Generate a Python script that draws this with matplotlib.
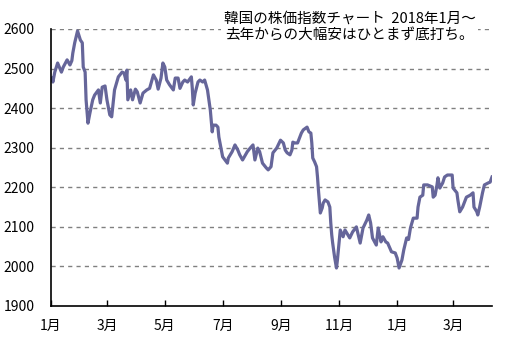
import matplotlib
matplotlib.use('Agg')
import matplotlib.pyplot as plt
import numpy as np
import pandas as pd

plt.rcParams['font.family'] = ['Noto Sans CJK JP', 'DejaVu Sans']

# KOSPI closing levels, Jan 2018 - Apr 2019
dates = [
    '2018-01-02', '2018-01-03', '2018-01-05', '2018-01-08', '2018-01-12', '2018-01-14',
    '2018-01-18', '2018-01-21', '2018-01-23', '2018-01-24', '2018-01-26', '2018-01-29',
    '2018-02-01', '2018-02-03', '2018-02-04', '2018-02-06', '2018-02-07', '2018-02-09',
    '2018-02-11', '2018-02-14', '2018-02-16', '2018-02-20', '2018-02-22', '2018-02-24',
    '2018-02-27', '2018-03-01', '2018-03-04', '2018-03-06', '2018-03-09', '2018-03-13',
    '2018-03-17', '2018-03-19', '2018-03-21', '2018-03-22', '2018-03-23', '2018-03-26',
    '2018-03-28', '2018-03-31', '2018-04-02', '2018-04-05', '2018-04-08', '2018-04-12',
    '2018-04-15', '2018-04-19', '2018-04-22', '2018-04-24', '2018-04-27', '2018-04-29',
    '2018-05-01', '2018-05-03', '2018-05-06', '2018-05-10', '2018-05-12', '2018-05-15',
    '2018-05-17', '2018-05-20', '2018-05-22', '2018-05-25', '2018-05-29', '2018-05-30',
    '2018-05-31', '2018-06-02', '2018-06-05', '2018-06-07', '2018-06-10', '2018-06-12',
    '2018-06-15', '2018-06-17', '2018-06-18', '2018-06-20', '2018-06-21', '2018-06-24',
    '2018-06-26', '2018-06-27', '2018-06-29', '2018-07-01', '2018-07-06', '2018-07-07',
    '2018-07-11', '2018-07-14', '2018-07-17', '2018-07-19', '2018-07-22', '2018-07-27',
    '2018-07-30', '2018-08-02', '2018-08-04', '2018-08-07', '2018-08-09', '2018-08-12',
    '2018-08-16', '2018-08-18', '2018-08-21', '2018-08-23', '2018-08-27', '2018-08-31',
    '2018-09-03', '2018-09-05', '2018-09-07', '2018-09-10', '2018-09-12', '2018-09-13',
    '2018-09-15', '2018-09-18', '2018-09-22', '2018-09-24', '2018-09-28', '2018-09-30',
    '2018-10-02', '2018-10-03', '2018-10-04', '2018-10-06', '2018-10-08', '2018-10-09',
    '2018-10-10', '2018-10-12', '2018-10-14', '2018-10-15', '2018-10-17', '2018-10-20',
    '2018-10-22', '2018-10-23', '2018-10-24', '2018-10-25', '2018-10-27', '2018-10-29',
    '2018-10-30', '2018-11-02', '2018-11-05', '2018-11-07', '2018-11-09', '2018-11-12',
    '2018-11-15', '2018-11-19', '2018-11-23', '2018-11-26', '2018-11-30', '2018-12-02',
    '2018-12-04', '2018-12-06', '2018-12-10', '2018-12-12', '2018-12-15', '2018-12-17',
    '2018-12-20', '2018-12-22', '2018-12-26', '2018-12-30', '2019-01-01', '2019-01-03',
    '2019-01-06', '2019-01-08', '2019-01-11', '2019-01-13', '2019-01-15', '2019-01-18',
    '2019-01-22', '2019-01-23', '2019-01-25', '2019-01-28', '2019-01-29', '2019-02-02',
    '2019-02-07', '2019-02-08', '2019-02-10', '2019-02-12', '2019-02-13', '2019-02-15',
    '2019-02-18', '2019-02-20', '2019-02-23', '2019-02-28', '2019-03-01', '2019-03-05',
    '2019-03-06', '2019-03-08', '2019-03-11', '2019-03-15', '2019-03-19', '2019-03-22',
    '2019-03-23', '2019-03-26', '2019-03-27', '2019-03-29', '2019-04-01', '2019-04-03',
    '2019-04-07', '2019-04-09', '2019-04-11',
]
values = [
    2476, 2466, 2491, 2514, 2491, 2504,
    2522, 2509, 2520, 2539, 2565, 2595,
    2572, 2565, 2504, 2491, 2421, 2362,
    2387, 2421, 2433, 2446, 2413, 2453,
    2456, 2421, 2383, 2378, 2446, 2479,
    2491, 2489, 2471, 2496, 2421, 2446,
    2421, 2448, 2441, 2413, 2438, 2446,
    2450, 2484, 2471, 2448, 2476, 2514,
    2504, 2471, 2459, 2446, 2476, 2476,
    2450, 2466, 2471, 2466, 2479, 2450,
    2408, 2438, 2466, 2471, 2466, 2471,
    2446, 2413, 2395, 2340, 2357, 2357,
    2352, 2327, 2302, 2277, 2261, 2274,
    2290, 2307, 2294, 2282, 2269, 2290,
    2299, 2307, 2269, 2299, 2290, 2261,
    2249, 2244, 2252, 2287, 2299, 2319,
    2312, 2294, 2287, 2282, 2294, 2314,
    2312, 2312, 2337, 2345, 2352, 2340,
    2337, 2312, 2274, 2264, 2252, 2226,
    2193, 2135, 2148, 2160, 2168, 2163,
    2150, 2110, 2080, 2059, 2024, 1996,
    2016, 2092, 2075, 2092, 2084, 2072,
    2087, 2100, 2059, 2097, 2117, 2130,
    2110, 2072, 2054, 2097, 2062, 2075,
    2062, 2059, 2037, 2034, 2021, 1996,
    2016, 2042, 2072, 2068, 2097, 2122,
    2122, 2150, 2175, 2180, 2206, 2206,
    2201, 2175, 2180, 2206, 2224, 2198,
    2211, 2226, 2231, 2231, 2198, 2186,
    2168, 2138, 2150, 2175, 2180, 2186,
    2150, 2138, 2130, 2150, 2186, 2206,
    2211, 2213, 2226,
]

tick_dates = ['2018-01-01', '2018-03-01', '2018-05-01', '2018-07-01',
              '2018-09-01', '2018-11-01', '2019-01-01', '2019-03-01']
tick_labels = ['1月', '3月', '5月', '7月', '9月', '11月', '1月', '3月']
y_ticks = [1900, 2000, 2100, 2200, 2300, 2400, 2500, 2600]

title = '韓国の株価指数チャート  2018年1月～\n去年からの大幅安はひとまず底打ち。'

df = pd.DataFrame({'date': pd.to_datetime(dates), 'kospi': values})

fig = plt.figure(figsize=(5.14, 3.48), dpi=100)
ax = fig.add_axes([0.0992, 0.1207, 0.8580, 0.7960])

ax.plot(df['date'], df['kospi'], color='#66669a', linewidth=2.3, solid_joinstyle='round')

ax.set_xlim(pd.Timestamp('2018-01-01'), df['date'].iloc[-1])
ax.set_ylim(1900, 2600)
ax.set_xticks(pd.to_datetime(tick_dates))
ax.set_xticklabels(tick_labels, fontsize=10)
ax.set_yticks(y_ticks)
ax.set_yticklabels([str(v) for v in y_ticks], fontsize=10)

ax.tick_params(axis='x', direction='in', length=4, width=1, pad=9)
ax.tick_params(axis='y', length=0, pad=12)

for v in y_ticks[1:]:
    ax.axhline(v, color='#808080', linewidth=1, linestyle=(0, (3, 3)), zorder=0)

for side in ['top', 'right']:
    ax.spines[side].set_visible(False)
for side in ['left', 'bottom']:
    ax.spines[side].set_linewidth(1.2)
    ax.spines[side].set_color('black')

ax.text(0.68, 0.965, title, transform=fig.transFigure, ha='center', va='top',
        fontsize=10.5, linespacing=1.25,
        bbox=dict(facecolor='white', edgecolor='none', pad=2))

fig.savefig('out.png', dpi=100)
